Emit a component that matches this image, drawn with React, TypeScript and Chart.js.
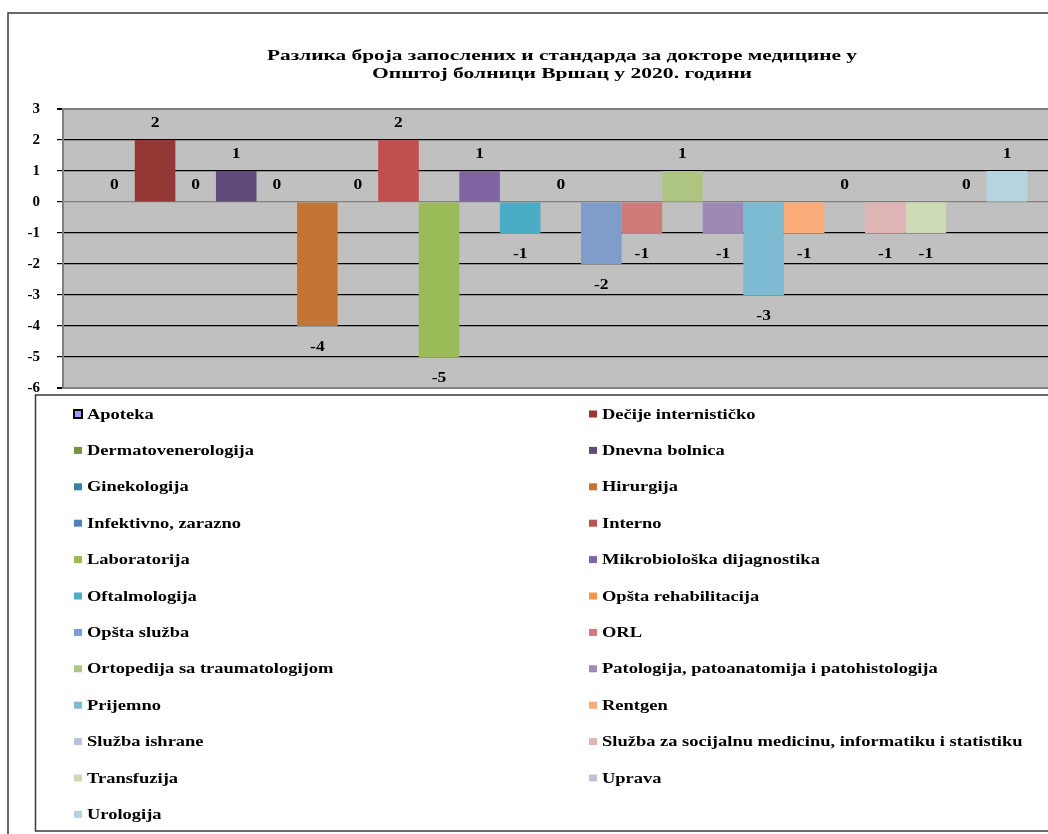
import React, { useEffect, useRef } from "react";
import { Chart, registerables } from "chart.js";

Chart.register(...registerables);

const TITLE_LINES = [
  "Разлика броја запослених и стандарда за докторе медицине у",
  "Општој болници Вршац у 2020. години",
];

const SERIES_NAMES = [
  "Apoteka",
  "Dečije internističko",
  "Dermatovenerologija",
  "Dnevna bolnica",
  "Ginekologija",
  "Hirurgija",
  "Infektivno, zarazno",
  "Interno",
  "Laboratorija",
  "Mikrobiološka dijagnostika",
  "Oftalmologija",
  "Opšta rehabilitacija",
  "Opšta služba",
  "ORL",
  "Ortopedija sa traumatologijom",
  "Patologija, patoanatomija i patohistologija",
  "Prijemno",
  "Rentgen",
  "Služba ishrane",
  "Služba za socijalnu medicinu, informatiku i statistiku",
  "Transfuzija",
  "Uprava",
  "Urologija",
];

const SERIES_VALUES = [0, 2, 0, 1, 0, -4, 0, 2, -5, 1, -1, 0, -2, -1, 1, -1, -3, -1, 0, -1, -1, 0, 1];

const SERIES_COLORS = [
  "#9999FF",
  "#953735",
  "#77933C",
  "#604A7B",
  "#31859C",
  "#C27534",
  "#4F81BD",
  "#C0504D",
  "#9BBB59",
  "#8064A2",
  "#4BACC6",
  "#F79646",
  "#7F9CCB",
  "#CF7B79",
  "#AFC683",
  "#9E88B6",
  "#7CBBD1",
  "#F9AB78",
  "#B8C4DE",
  "#DFB6B5",
  "#CDDAB6",
  "#C7BED8",
  "#B6D4DF",
];

const LEGEND_OUTLINED = ["Apoteka"];

const Y_MIN = -6;
const Y_MAX = 3;

const FONT = "'Liberation Serif', 'Times New Roman', serif";
const STRETCH = 1.32;

function drawStretched(ctx: CanvasRenderingContext2D, text: string, x: number, y: number, align: "left" | "center", sx: number) {
  ctx.save();
  ctx.translate(x, y);
  ctx.scale(sx, 1);
  ctx.textAlign = align;
  ctx.fillText(text, 0, 0);
  ctx.restore();
}

const CANVAS_W = 1100;
const CANVAS_H = 834;

export default function App() {
  const ref = useRef<HTMLCanvasElement | null>(null);

  useEffect(() => {
    if (!ref.current) return;

    const framePlugin = {
      id: "frame",
      beforeDraw(chart: any) {
        const { ctx, chartArea } = chart;
        ctx.save();
        ctx.fillStyle = "#ffffff";
        ctx.fillRect(0, 0, chart.width, chart.height);
        ctx.fillStyle = "#C0C0C0";
        ctx.fillRect(chartArea.left, chartArea.top, chartArea.right - chartArea.left, chartArea.bottom - chartArea.top);
        ctx.restore();
      },
      afterDraw(chart: any) {
        const ctx: CanvasRenderingContext2D = chart.ctx;
        ctx.save();
        // outer border
        ctx.strokeStyle = "#3a3a3a";
        ctx.lineWidth = 1.5;
        ctx.beginPath();
        ctx.moveTo(8, chart.height);
        ctx.lineTo(8, 13);
        ctx.lineTo(chart.width, 13);
        ctx.stroke();

        // title
        ctx.fillStyle = "#000";
        ctx.font = `bold 14px ${FONT}`;
        ctx.textBaseline = "alphabetic";
        const targets = [590, 380];
        const baselines = [60, 78];
        TITLE_LINES.forEach((line, i) => {
          const w = ctx.measureText(line).width;
          const sx = targets[i] / w;
          drawStretched(ctx, line, 562, baselines[i], "center", sx);
        });

        // legend box
        ctx.strokeStyle = "#3a3a3a";
        ctx.lineWidth = 1.5;
        ctx.beginPath();
        ctx.moveTo(chart.width, 395);
        ctx.lineTo(35.5, 395);
        ctx.lineTo(35.5, 831);
        ctx.lineTo(chart.width, 831);
        ctx.stroke();

        // legend items
        ctx.font = `bold 14px ${FONT}`;
        ctx.textBaseline = "middle";
        chart.data.datasets.forEach((ds: any, i: number) => {
          const col = i % 2;
          const row = Math.floor(i / 2);
          const cy = 414 + row * 36.4;
          const sqX = col === 0 ? 74 : 589;
          const txX = col === 0 ? 87 : 602;
          ctx.fillStyle = ds.backgroundColor;
          if (LEGEND_OUTLINED.includes(ds.label)) {
            ctx.fillRect(sqX, cy - 4, 8, 8);
            ctx.strokeStyle = "#000";
            ctx.lineWidth = 2;
            ctx.strokeRect(sqX, cy - 4, 8, 8);
          } else {
            ctx.fillRect(sqX, cy - 3.5, 8, 7);
          }
          ctx.fillStyle = "#000";
          drawStretched(ctx, ds.label, txX, cy + 1, "left", STRETCH);
        });
        ctx.restore();
      },
    };

    const labelPlugin = {
      id: "barLabels",
      afterDatasetsDraw(chart: any) {
        const ctx: CanvasRenderingContext2D = chart.ctx;
        ctx.save();
        ctx.fillStyle = "#000";
        ctx.font = `bold 14px ${FONT}`;
        ctx.textBaseline = "middle";
        chart.data.datasets.forEach((ds: any, i: number) => {
          const meta = chart.getDatasetMeta(i);
          const el = meta.data[0];
          if (!el) return;
          const v = ds.data[0];
          const y = v >= 0 ? el.y - 17 : el.y + 21;
          drawStretched(ctx, String(v), el.x, y, "center", 1.25);
        });
        ctx.restore();
      },
    };

    const chart = new Chart(ref.current, {
      type: "bar",
      data: {
        labels: [""],
        datasets: SERIES_NAMES.map((name, i) => ({
          label: name,
          data: [SERIES_VALUES[i]],
          backgroundColor: SERIES_COLORS[i],
          borderWidth: 0,
          categoryPercentage: 0.9373,
          barPercentage: 1,
        })),
      },
      options: {
        animation: false,
        responsive: false,
        maintainAspectRatio: false,
        layout: {
          padding: { left: 0, top: 109, right: CANVAS_W - 1058.5, bottom: CANVAS_H - 388 },
        },
        plugins: {
          legend: { display: false },
          title: { display: false },
          tooltip: { enabled: false },
        },
        scales: {
          x: { display: false, grid: { display: false } },
          y: {
            min: Y_MIN,
            max: Y_MAX,
            afterFit(scale: any) {
              scale.width = 63;
            },
            ticks: {
              stepSize: 1,
              color: "#000",
              padding: 17,
              font: { family: FONT, size: 15, weight: "bold" },
            },
            grid: {
              color: (c: any) => {
                const v = c.tick ? c.tick.value : null;
                return v === 0 || v === Y_MAX || v === Y_MIN ? "#808080" : "#000";
              },
              lineWidth: (c: any) => {
                const v = c.tick ? c.tick.value : null;
                return v === Y_MAX || v === Y_MIN ? 2 : 1.2;
              },
              tickColor: "#000",
              tickLength: 6,
            },
            border: { color: "#808080", width: 2 },
          },
        },
      },
      plugins: [framePlugin, labelPlugin],
    });

    return () => chart.destroy();
  }, []);

  return (
    <div style={{ position: "absolute", left: 0, top: 0, width: 1048, height: 834, overflow: "hidden", background: "#fff" }}>
      <canvas ref={ref} width={CANVAS_W} height={CANVAS_H} style={{ display: "block", width: CANVAS_W, height: CANVAS_H }} />
    </div>
  );
}
